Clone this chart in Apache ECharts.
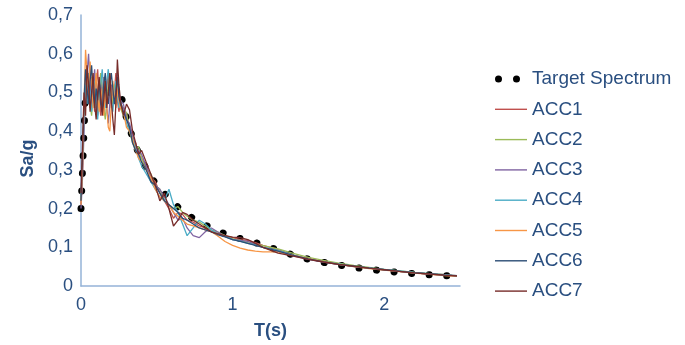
<!DOCTYPE html>
<html>
<head>
<meta charset="utf-8">
<script src="https://cdn.jsdelivr.net/npm/echarts@6/dist/echarts.min.js"></script>
<style>html,body{margin:0;padding:0;background:#fff;}#chart{width:685px;height:345px;}</style>
</head>
<body>
<div id="chart"></div>
<script>
// Period grid (s) shared by the accelerogram spectra
var periods = [0,0.01,0.02,0.03,0.04,0.05,0.06,0.07,0.08,0.09,0.10,0.11,0.12,0.13,0.14,0.15,0.16,0.17,0.18,0.19,0.20,0.21,0.22,0.23,0.24,0.25,0.26,
  0.28,0.30,0.32,0.34,0.36,0.38,0.40,
  0.43,0.46,0.49,0.52,0.55,0.58,0.61,0.64,0.67,0.70,
  0.74,0.78,0.82,0.86,0.90,0.95,1.00,
  1.05,1.10,1.15,1.20,
  1.3,1.4,1.5,1.6,1.7,1.8,1.9,2.0,2.1,2.2,2.3,2.4,2.48];

// Target spectrum
var targetT  = [0,0.03,0.26,0.30,0.35,0.40,0.45,0.50,0.60,0.70,0.80,0.90,1.00,1.10,1.20,1.30,1.40,1.50,1.60,1.70,1.80,1.90,2.00,2.10,2.20,2.30,2.40,2.48];
var targetSa = [0.20,0.50,0.50,0.433,0.371,0.325,0.289,0.26,0.217,0.184,0.161,0.142,0.128,0.117,0.107,0.092,0.08,0.069,0.061,0.054,0.048,0.043,0.039,0.035,0.032,0.029,0.027,0.025];

var acc1 = [0.21,0.31,0.45,0.53,0.57,0.50,0.46,0.54,0.49,0.45,0.52,0.56,0.48,0.44,0.50,0.54,0.47,0.51,0.55,0.49,0.46,0.52,0.50,0.55,0.48,0.45,0.47,
  0.46,0.44,0.41,0.38,0.37,0.34,0.33,
  0.31,0.28,0.27,0.24,0.22,0.20,0.175,0.19,0.185,0.17,
  0.165,0.155,0.15,0.14,0.135,0.13,0.125,
  0.12,0.118,0.112,0.105,
  0.094,0.08,0.07,0.062,0.056,0.051,0.046,0.042,0.038,0.034,0.031,0.029,0.027];
var acc2 = [0.22,0.33,0.46,0.50,0.55,0.52,0.47,0.44,0.50,0.54,0.49,0.45,0.52,0.55,0.50,0.46,0.43,0.48,0.52,0.55,0.50,0.47,0.52,0.49,0.53,0.50,0.46,
  0.44,0.45,0.40,0.37,0.35,0.36,0.33,
  0.30,0.29,0.26,0.25,0.22,0.21,0.20,0.205,0.19,0.18,
  0.17,0.165,0.155,0.145,0.14,0.13,0.122,
  0.118,0.112,0.108,0.104,
  0.096,0.084,0.074,0.066,0.059,0.053,0.048,0.043,0.039,0.035,0.032,0.029,0.026];
var acc3 = [0.20,0.28,0.40,0.48,0.55,0.60,0.52,0.46,0.50,0.56,0.48,0.44,0.47,0.52,0.49,0.45,0.50,0.46,0.42,0.47,0.52,0.50,0.47,0.51,0.55,0.50,0.48,
  0.47,0.43,0.42,0.39,0.36,0.35,0.34,
  0.31,0.28,0.26,0.25,0.23,0.21,0.19,0.17,0.175,0.15,
  0.13,0.125,0.14,0.15,0.14,0.128,0.12,
  0.118,0.115,0.108,0.10,
  0.09,0.078,0.069,0.062,0.056,0.05,0.046,0.042,0.038,0.034,0.031,0.028,0.026];
var acc4 = [0.23,0.32,0.44,0.52,0.47,0.55,0.50,0.45,0.49,0.53,0.47,0.43,0.49,0.52,0.56,0.50,0.46,0.53,0.56,0.51,0.48,0.45,0.50,0.53,0.49,0.46,0.48,
  0.45,0.42,0.40,0.38,0.36,0.33,0.31,
  0.29,0.27,0.25,0.23,0.22,0.25,0.21,0.19,0.16,0.13,
  0.15,0.17,0.16,0.145,0.135,0.128,0.12,
  0.116,0.11,0.106,0.10,
  0.092,0.08,0.07,0.063,0.057,0.051,0.047,0.043,0.039,0.035,0.032,0.029,0.027];
var acc5 = [0.21,0.30,0.47,0.61,0.55,0.49,0.58,0.52,0.46,0.50,0.55,0.49,0.45,0.51,0.48,0.44,0.50,0.46,0.41,0.40,0.47,0.53,0.49,0.46,0.51,0.48,0.46,
  0.45,0.41,0.40,0.38,0.35,0.33,0.32,
  0.30,0.28,0.25,0.23,0.22,0.21,0.19,0.18,0.17,0.16,
  0.155,0.15,0.145,0.14,0.13,0.115,0.105,
  0.098,0.093,0.09,0.088,
  0.088,0.079,0.071,0.063,0.056,0.05,0.045,0.041,0.037,0.033,0.03,0.027,0.025];
var acc6 = [0.22,0.34,0.48,0.56,0.51,0.47,0.53,0.57,0.50,0.46,0.51,0.48,0.53,0.47,0.45,0.52,0.55,0.49,0.47,0.52,0.55,0.51,0.47,0.50,0.54,0.49,0.47,
  0.45,0.43,0.41,0.37,0.35,0.34,0.32,
  0.30,0.27,0.26,0.24,0.22,0.21,0.20,0.19,0.175,0.17,
  0.16,0.15,0.145,0.14,0.133,0.127,0.12,
  0.115,0.11,0.105,0.10,
  0.09,0.079,0.07,0.062,0.056,0.051,0.046,0.042,0.038,0.034,0.031,0.028,0.026];
var acc7 = [0.24,0.36,0.50,0.44,0.57,0.52,0.45,0.50,0.55,0.47,0.43,0.50,0.54,0.49,0.44,0.48,0.53,0.46,0.50,0.55,0.48,0.43,0.39,0.47,0.585,0.52,0.48,
  0.44,0.47,0.455,0.40,0.37,0.34,0.35,
  0.32,0.29,0.26,0.22,0.24,0.20,0.155,0.17,0.19,0.185,
  0.17,0.16,0.15,0.14,0.135,0.13,0.126,
  0.125,0.12,0.11,0.10,
  0.085,0.077,0.069,0.062,0.056,0.051,0.046,0.042,0.038,0.034,0.031,0.028,0.026];

var accNames  = ['ACC1','ACC2','ACC3','ACC4','ACC5','ACC6','ACC7'];
var accValues = [acc1, acc2, acc3, acc4, acc5, acc6, acc7];
var accColors = ['#C0504D','#9BBB59','#8064A2','#4BACC6','#F79646','#2C4D75','#772C2A'];
var targetName = 'Target Spectrum';

function pairs(xs, ys) { return xs.map(function (x, i) { return [x, ys[i]]; }); }

var textColor = '#2A4F80';
var axisColor = '#95B3D7';
var fontFam = '"Liberation Sans", Arial, sans-serif';

var series = [{
  name: targetName,
  type: 'line',
  data: pairs(targetT, targetSa),
  symbol: 'none',
  color: '#000',
  lineStyle: { color: '#000', width: 7, type: [0.1, 17.5], cap: 'round' },
  z: 2
}];
accNames.forEach(function (n, k) {
  series.push({
    name: n,
    type: 'line',
    data: pairs(periods, accValues[k]),
    symbol: 'none',
    color: accColors[k],
    lineStyle: { color: accColors[k], width: 1.3 },
    z: 3
  });
});

var dotsIcon = 'path://M0,3.5a3.5,3.5 0 1,0 7,0a3.5,3.5 0 1,0 -7,0M18,3.5a3.5,3.5 0 1,0 7,0a3.5,3.5 0 1,0 -7,0M31.9,3.5L32,3.5L32,3.6Z';
var lineIcon = 'path://M0,0L32,0L32,1.4L0,1.4Z';
var legendData = [{ name: targetName, icon: dotsIcon, itemStyle: { color: '#000' } }]
  .concat(accNames.map(function (n) { return { name: n, icon: lineIcon }; }));

var chart = echarts.init(document.getElementById('chart'), null, { renderer: 'canvas' });
chart.setOption({
  animation: false,
  backgroundColor: '#fff',
  textStyle: { fontFamily: fontFam },
  grid: { left: 81, right: 225, top: 15, bottom: 59, containLabel: false },
  xAxis: {
    type: 'value', min: 0, max: 2.5, interval: 1,
    name: 'T(s)', nameLocation: 'middle', nameGap: 36,
    nameTextStyle: { color: textColor, fontSize: 18, fontWeight: 'bold', fontFamily: fontFam },
    axisLine: { show: true, lineStyle: { color: axisColor, width: 1.5 } },
    axisTick: { show: false },
    splitLine: { show: false },
    axisLabel: {
      color: textColor, fontSize: 18, margin: 10, fontFamily: fontFam,
      formatter: function (v) { return Math.abs(v - Math.round(v)) < 1e-9 ? String(Math.round(v)) : ''; }
    }
  },
  yAxis: {
    type: 'value', min: 0, max: 0.7, interval: 0.1,
    name: 'Sa/g', nameLocation: 'middle', nameGap: 40, nameRotate: 90,
    nameTextStyle: { color: textColor, fontSize: 18, fontWeight: 'bold', fontFamily: fontFam, padding: [0, 16, 0, 0] },
    axisLine: { show: true, lineStyle: { color: axisColor, width: 1.5 } },
    axisTick: { show: false },
    splitLine: { show: false },
    axisLabel: {
      color: textColor, fontSize: 18, margin: 8, fontFamily: fontFam,
      formatter: function (v) { return v === 0 ? '0' : v.toFixed(1).replace('.', ','); }
    }
  },
  legend: {
    orient: 'vertical', left: 490, top: 64,
    itemWidth: 32, itemHeight: 14, itemGap: 10.3,
    data: legendData,
    textStyle: { color: textColor, fontSize: 19, lineHeight: 20, fontFamily: fontFam }
  },
  series: series
});
</script>
</body>
</html>
